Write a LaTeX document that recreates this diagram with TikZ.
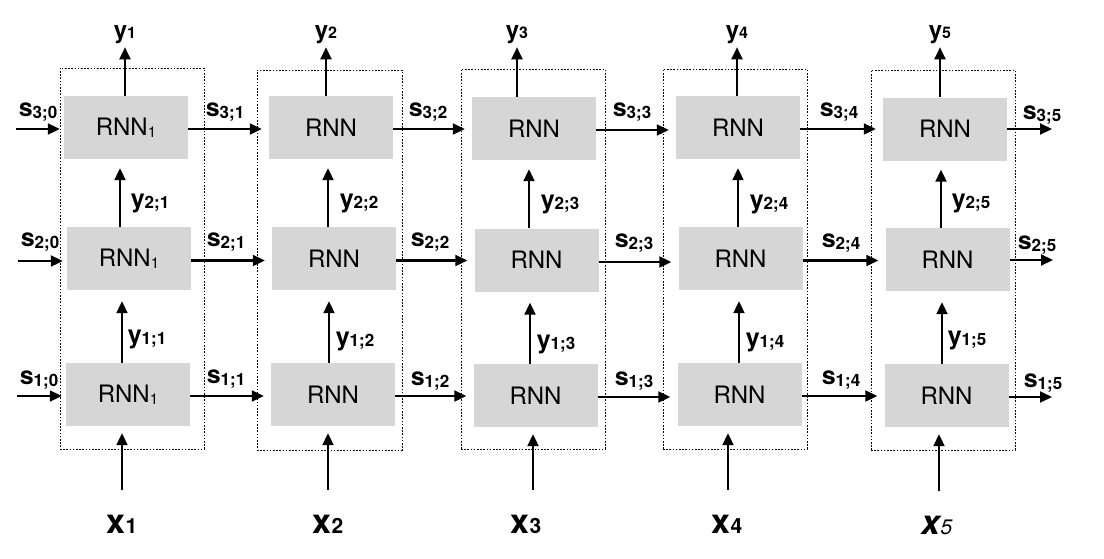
\documentclass[tikz,border=0pt]{standalone}
\usepackage{fontspec}
\setmainfont{TeX Gyre Heros}
\usetikzlibrary{arrows.meta}
\definecolor{boxgray}{HTML}{D6D6D6}
\newcommand{\mylab}[2]{{\fontsize{25}{25}\selectfont\bfseries #1}\raisebox{-1.5pt}{\fontsize{17}{17}\selectfont\bfseries #2}}
\newcommand{\mytop}[2]{{\fontsize{24}{24}\selectfont\bfseries #1}{\fontsize{16}{16}\selectfont\bfseries #2}}
\newcommand{\myin}[2]{{\fontsize{34}{34}\selectfont\bfseries #1}{\fontsize{21}{21}\selectfont\bfseries #2}}
\newcommand{\rnnone}{RNN\raisebox{-1.5pt}{\fontsize{15}{15}\selectfont 1}}
\begin{document}
\begin{tikzpicture}[x=1pt,y=-1pt,
  rnn/.style={fill=boxgray, minimum width=124pt, minimum height=63pt, inner sep=0pt, font=\fontsize{24}{24}\selectfont},
  arr/.style={line width=2.1pt, -{Triangle[length=12pt,width=11pt]}},
  frame/.style={draw, line width=0.8pt, dash pattern=on 1.6pt off 1.6pt, inner sep=0pt},
  lab/.style={inner sep=0pt}]
\useasboundingbox (0,0) rectangle (1104,558);
% dotted frames
\node[frame, minimum width=144pt, minimum height=381pt] (f1) at (132,258.5) {};
\node[frame, minimum width=145pt, minimum height=380pt] (f2) at (329.5,260) {};
\node[frame, minimum width=144pt, minimum height=380pt] (f3) at (533,259) {};
\node[frame, minimum width=144pt, minimum height=380pt] (f4) at (735,259) {};
\node[frame, minimum width=144pt, minimum height=380pt] (f5) at (943,260) {};
% RNN boxes
\node[rnn] (t1) at (126,127.5) {\rnnone};
\node[rnn] (m1) at (129,258.5) {\rnnone};
\node[rnn] (b1) at (128,394.5) {\rnnone};
\node[rnn] (t2) at (331,127.5) {RNN};
\node[rnn] (m2) at (334,258.5) {RNN};
\node[rnn] (b2) at (333,394.5) {RNN};
\node[rnn] (t3) at (534,128.5) {RNN};
\node[rnn] (m3) at (536.5,260) {RNN};
\node[rnn] (b3) at (535.5,395.5) {RNN};
\node[rnn] (t4) at (738,127.5) {RNN};
\node[rnn] (m4) at (740.5,258.5) {RNN};
\node[rnn] (b4) at (739.5,394.5) {RNN};
\node[rnn] (t5) at (945,129) {RNN};
\node[rnn] (m5) at (947.5,259.5) {RNN};
\node[rnn] (b5) at (946.5,395.5) {RNN};
% top outputs
\node[lab] (y1) at (125,35) {\mytop{y}{1}};
\node[lab] (y2) at (326,35) {\mytop{y}{2}};
\node[lab] (y3) at (517,35) {\mytop{y}{3}};
\node[lab] (y4) at (737,35) {\mytop{y}{4}};
\node[lab] (y5) at (940,35) {\mytop{y}{5}};
\foreach \k in {1,...,5} {
  \draw[arr, shorten >=3pt] (t\k.north -| y\k) -- (y\k.south);
}
% inputs
\node[lab] (x1) at (122,524) {\myin{x}{1}};
\node[lab] (x2) at (328,524) {\myin{x}{2}};
\node[lab] (x3) at (526,524) {\myin{x}{3}};
\node[lab] (x4) at (727,524) {\myin{x}{4}};
\node[lab] (x5) at (937,525) {{\fontsize{34}{34}\selectfont\bfseries\itshape x}{\fontsize{21}{21}\selectfont\itshape 5}};
\coordinate (i1) at (122,490);
\coordinate (i2) at (328,490);
\coordinate (i3) at (533,490);
\coordinate (i4) at (728,490);
\coordinate (i5) at (939,491);
\foreach \k in {1,...,5} {
  \draw[arr, shorten >=7pt] (i\k) -- (b\k.south -| i\k);
}
% vertical inner arrows
\foreach \k/\xa/\xb in {1/120/122, 2/328/329, 3/529/530, 4/738/739, 5/941/942} {
  \draw[arr, shorten >=9pt] (m\k.north -| \xa,0) -- (t\k.south -| \xa,0);
  \draw[arr, shorten >=11pt] (b\k.north -| \xb,0) -- (m\k.south -| \xb,0);
}
% horizontal arrows between columns
\foreach \a/\b in {1/2, 2/3, 3/4, 4/5} {
  \draw[arr, shorten >=7pt] ([yshift=-1.5pt]t\a.east) -- ([yshift=-1.5pt]t\a.east -| t\b.west);
  \draw[arr, shorten >=7pt] ([yshift=-2pt]m\a.east) -- ([yshift=-2pt]m\a.east -| m\b.west);
  \draw[arr, shorten >=7pt] ([yshift=-1.5pt]b\a.east) -- ([yshift=-1.5pt]b\a.east -| b\b.west);
}
% left inputs
\coordinate (l3) at (16,129);
\coordinate (l2) at (18,261);
\coordinate (l1) at (17,396);
\draw[arr, shorten >=4pt] (l3) -- (l3 -| t1.west);
\draw[arr, shorten >=4pt] (l2) -- (l2 -| m1.west);
\draw[arr, shorten >=4pt] (l1) -- (l1 -| b1.west);
% right outputs
\coordinate (r3) at (1052,129);
\coordinate (r2) at (1053,260);
\coordinate (r1) at (1052,397);
\draw[arr] (r3 -| t5.east) -- (r3);
\draw[arr] (r2 -| m5.east) -- (r2);
\draw[arr] (r1 -| b5.east) -- (r1);
% state labels
\node[lab] (s30) at (38,112) {\mylab{s}{3;0}};
\node[lab] (s20) at (40,242) {\mylab{s}{2;0}};
\node[lab] (s10) at (39,380) {\mylab{s}{1;0}};
\node[lab] (s31) at (225,112) {\mylab{s}{3;1}};
\node[lab] (s21) at (226,242) {\mylab{s}{2;1}};
\node[lab] (s11) at (226,379) {\mylab{s}{1;1}};
\node[lab] (s32) at (428,112) {\mylab{s}{3;2}};
\node[lab] (s22) at (430,242) {\mylab{s}{2;2}};
\node[lab] (s12) at (430,381) {\mylab{s}{1;2}};
\node[lab] (s33) at (632,112) {\mylab{s}{3;3}};
\node[lab] (s23) at (634,243) {\mylab{s}{2;3}};
\node[lab] (s13) at (634,381) {\mylab{s}{1;3}};
\node[lab] (s34) at (839,112) {\mylab{s}{3;4}};
\node[lab] (s24) at (841,243) {\mylab{s}{2;4}};
\node[lab] (s14) at (841,380) {\mylab{s}{1;4}};
\node[lab] (s35) at (1042,115) {\mylab{s}{3;5}};
\node[lab] (s25) at (1037,245) {\mylab{s}{2;5}};
\node[lab] (s15) at (1043,383) {\mylab{s}{1;5}};
% inner y labels
\node[lab] (y21) at (150,203) {\mylab{y}{2;1}};
\node[lab] (y22) at (359,203) {\mylab{y}{2;2}};
\node[lab] (y23) at (560,204) {\mylab{y}{2;3}};
\node[lab] (y24) at (769,204) {\mylab{y}{2;4}};
\node[lab] (y25) at (971,203) {\mylab{y}{2;5}};
\node[lab] (y11) at (147,339) {\mylab{y}{1;1}};
\node[lab] (y12) at (355,341) {\mylab{y}{1;2}};
\node[lab] (y13) at (556,344) {\mylab{y}{1;3}};
\node[lab] (y14) at (765,342) {\mylab{y}{1;4}};
\node[lab] (y15) at (967,340) {\mylab{y}{1;5}};
\end{tikzpicture}
\end{document}
